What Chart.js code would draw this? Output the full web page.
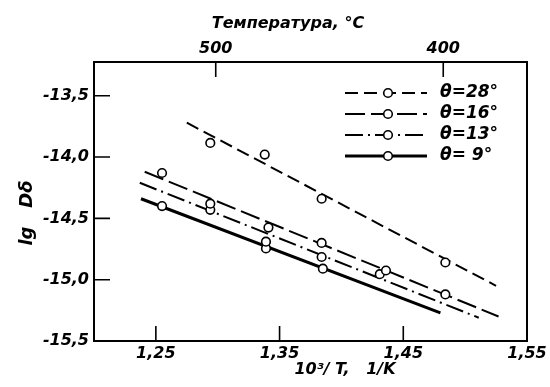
<!DOCTYPE html>
<html lang="ru">
<head>
    <meta charset="UTF-8">
    <script src="https://cdn.jsdelivr.net/npm/chart.js"></script>
    <title>lg Dδ</title>
    <style>
        html, body { margin: 0; padding: 0; background: #fff; }
        #wrap { width: 550px; height: 387px; }
    </style>
</head>
<body>
<div id="wrap"><canvas id="canv" width="550" height="387"></canvas></div>
<script>
    // точки (x = 10^3/T, y = lg Dδ)
    const x28 = [1.294, 1.338, 1.384, 1.484]
    const y28 = [-13.885, -13.98, -14.34, -14.86]
    const x16 = [1.255, 1.294, 1.341, 1.384, 1.436, 1.484]
    const y16 = [-14.13, -14.38, -14.575, -14.70, -14.925, -15.12]
    const x13 = [1.294, 1.339, 1.384, 1.431]
    const y13 = [-14.43, -14.69, -14.815, -14.955]
    const x9 = [1.255, 1.339, 1.385]
    const y9 = [-14.40, -14.745, -14.91]

    // концы прямых
    const fitX28 = [1.275, 1.525], fitY28 = [-13.72, -15.05]
    const fitX16 = [1.241, 1.527], fitY16 = [-14.12, -15.30]
    const fitX13 = [1.237, 1.511], fitY13 = [-14.21, -15.31]
    const fitX9 = [1.238, 1.480], fitY9 = [-14.34, -15.27]

    const labels = ['θ=28°', 'θ=16°', 'θ=13°', 'θ= 9°']
    const xTicks = [1.25, 1.35, 1.45, 1.55]
    const yTicks = [-15.5, -15.0, -14.5, -14.0, -13.5]
    const tempTicks = [1.2984, 1.4823]
    const tempLabels = ['500', '400']

    const dashes = [[13, 6], [20, 6], [18, 5, 2, 5], []]
    const widths = [2, 2, 2, 3]

    const pts = (xs, ys) => xs.map((x, i) => ({x: x, y: ys[i]}))
    const seriesPts = [pts(x28, y28), pts(x16, y16), pts(x13, y13), pts(x9, y9)]
    const seriesFit = [pts(fitX28, fitY28), pts(fitX16, fitY16), pts(fitX13, fitY13), pts(fitX9, fitY9)]

    const datasets = []
    for (let i = 0; i < 4; i++) {
        datasets.push({
            type: 'line', data: seriesFit[i], borderColor: '#000', borderWidth: widths[i],
            borderDash: dashes[i], pointRadius: 0, fill: false, order: 2
        })
        datasets.push({
            type: 'scatter', data: seriesPts[i], showLine: false, pointRadius: 4.3,
            pointBorderWidth: 1.6, pointBackgroundColor: '#fff', pointBorderColor: '#000', order: 1
        })
    }

    const tickFont = {family: 'DejaVu Sans', size: 16, style: 'italic', weight: 'bold'}
    const comma = v => String(v).replace('.', ',')

    const frame = {
        id: 'frame',
        afterDraw(chart) {
            const c = chart.ctx, a = chart.chartArea
            const sx = chart.scales.x, sy = chart.scales.y, st = chart.scales.xTop
            c.save()
            c.strokeStyle = '#000'
            c.lineWidth = 2
            c.strokeRect(a.left, a.top, a.right - a.left, a.bottom - a.top)
            c.lineWidth = 1.6
            c.beginPath()
            yTicks.forEach(v => { const y = sy.getPixelForValue(v); c.moveTo(a.left, y); c.lineTo(a.left + 16, y) })
            xTicks.slice(0, 3).forEach(v => { const x = sx.getPixelForValue(v); c.moveTo(x, a.bottom); c.lineTo(x, a.bottom - 15) })
            tempTicks.forEach(v => { const x = st.getPixelForValue(v); c.moveTo(x, a.top); c.lineTo(x, a.top + 15) })
            c.stroke()

            // легенда
            for (let i = 0; i < 4; i++) {
                const y = 93 + i * 21
                c.lineWidth = widths[i]
                c.setLineDash(dashes[i])
                c.beginPath(); c.moveTo(345, y); c.lineTo(427, y); c.stroke()
                c.setLineDash([])
                c.lineWidth = 1.6
                c.fillStyle = '#fff'
                c.beginPath(); c.arc(388, y, 4.3, 0, Math.PI * 2); c.fill(); c.stroke()
                c.fillStyle = '#000'
                c.font = 'italic bold 17px "DejaVu Sans"'
                c.textBaseline = 'middle'
                c.textAlign = 'left'
                c.fillText(labels[i], 440, y)
            }

            // подписи осей
            c.font = 'italic bold 16px "DejaVu Sans"'
            c.textAlign = 'center'
            c.fillText('Температура, °C', 288, 24)
            c.fillText('10³/ T,   1/K', 345, 370)
            c.font = 'italic bold 18px "DejaVu Sans"'
            c.translate(27, 213)
            c.rotate(-Math.PI / 2)
            c.fillText('lg   Dδ', 0, 0)
            c.restore()
        }
    }

    new Chart(document.getElementById('canv').getContext('2d'), {
        data: {datasets: datasets},
        options: {
            responsive: false,
            animation: false,
            layout: {padding: {left: 0, right: 23, top: 0, bottom: 0}},
            plugins: {legend: {display: false}, tooltip: {enabled: false}},
            scales: {
                x: {
                    type: 'linear', position: 'bottom', min: 1.20, max: 1.55,
                    grid: {display: false, drawTicks: false}, border: {display: false},
                    afterBuildTicks: s => { s.ticks = xTicks.map(v => ({value: v})) },
                    afterFit: s => { s.height = 46 },
                    ticks: {color: '#000', font: tickFont, padding: 3, maxRotation: 0, callback: v => comma(v.toFixed(2))}
                },
                xTop: {
                    type: 'linear', position: 'top', min: 1.20, max: 1.55,
                    grid: {display: false, drawTicks: false}, border: {display: false},
                    afterBuildTicks: s => { s.ticks = tempTicks.map(v => ({value: v})) },
                    afterFit: s => { s.height = 62 },
                    ticks: {color: '#000', font: tickFont, padding: 4, maxRotation: 0,
                        callback: (v, i) => tempLabels[i]}
                },
                y: {
                    type: 'linear', min: -15.5, max: -13.225,
                    grid: {display: false, drawTicks: false}, border: {display: false},
                    afterBuildTicks: s => { s.ticks = yTicks.map(v => ({value: v})) },
                    afterFit: s => { s.width = 94 },
                    ticks: {color: '#000', font: tickFont, padding: 5, callback: v => comma(v.toFixed(1))}
                }
            }
        },
        plugins: [frame]
    })
</script>
</body>
</html>
